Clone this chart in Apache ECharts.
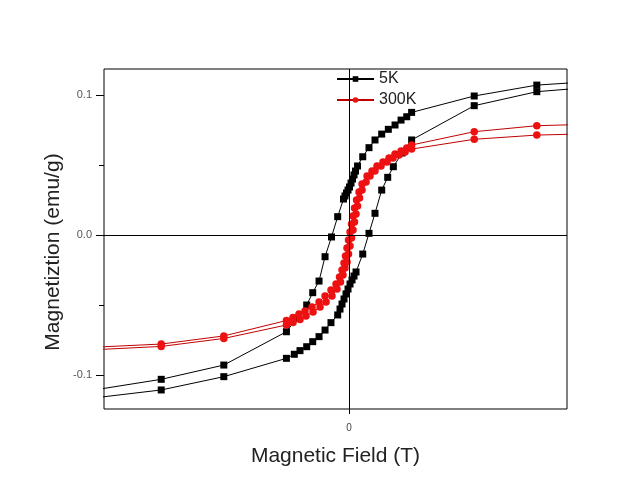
<!DOCTYPE html>
<html>
<head>
<meta charset="utf-8">
<script src="https://cdn.jsdelivr.net/npm/echarts@6/dist/echarts.min.js"></script>
<style>html,body{margin:0;padding:0;background:#fff}#c{width:634px;height:504px}</style>
</head>
<body>
<div id="c"></div>
<script>
// 5K loop: descending branch (+H -> -H)
const field5K_desc = [4, 3, 2, 1, 0.922, 0.831, 0.735, 0.628, 0.522, 0.415, 0.319, 0.219, 0.136, 0.104, 0.080, 0.056, 0.032, 0.008, -0.016, -0.040, -0.064, -0.088, -0.181, -0.280, -0.383, -0.479, -0.580, -0.676, -0.831, -1, -2, -3, -4];
const m5K_desc = [0.110, 0.1071, 0.0993, 0.0876, 0.0845, 0.0821, 0.0786, 0.0755, 0.0721, 0.0679, 0.0624, 0.0559, 0.0493, 0.0457, 0.0429, 0.0400, 0.0371, 0.0343, 0.0321, 0.0300, 0.0279, 0.0257, 0.0131, -0.0014, -0.0155, -0.0329, -0.0412, -0.0500, -0.0593, -0.0691, -0.0929, -0.1031, -0.1102];
// 5K loop: ascending branch (-H -> +H)
const field5K_asc = [-4, -3, -2, -1, -0.874, -0.783, -0.676, -0.580, -0.479, -0.383, -0.288, -0.181, -0.144, -0.112, -0.080, -0.048, -0.016, 0.016, 0.048, 0.080, 0.112, 0.219, 0.319, 0.415, 0.522, 0.618, 0.708, 0.847, 1, 2, 3, 4];
const m5K_asc = [-0.116, -0.1107, -0.1012, -0.0881, -0.0852, -0.0826, -0.0798, -0.0762, -0.0726, -0.0679, -0.0626, -0.0571, -0.0529, -0.0493, -0.0457, -0.0421, -0.0386, -0.0350, -0.0321, -0.0293, -0.0264, -0.0136, 0.0012, 0.0155, 0.0321, 0.0412, 0.0488, 0.0586, 0.0679, 0.0924, 0.1024, 0.106];
// 300K loop
const field300K_desc = [4, 3, 2, 1, 0.922, 0.831, 0.735, 0.639, 0.543, 0.447, 0.367, 0.288, 0.208, 0.160, 0.120, 0.088, 0.064, 0.040, 0.016, -0.008, -0.032, -0.056, -0.080, -0.112, -0.152, -0.208, -0.288, -0.383, -0.479, -0.591, -0.703, -0.799, -0.895, -1, -2, -3, -4];
const m300K_desc = [0.0793, 0.0781, 0.0738, 0.0643, 0.0621, 0.0600, 0.0579, 0.0550, 0.0521, 0.0493, 0.0457, 0.0421, 0.0364, 0.0307, 0.0250, 0.0193, 0.0136, 0.0079, 0.0021, -0.0036, -0.0093, -0.0150, -0.0200, -0.0250, -0.0300, -0.0350, -0.0393, -0.0436, -0.0479, -0.0514, -0.0543, -0.0564, -0.0589, -0.0611, -0.0721, -0.0779, -0.0800];
const field300K_asc = [-4, -3, -2, -1, -0.895, -0.783, -0.687, -0.575, -0.463, -0.367, -0.272, -0.192, -0.136, -0.096, -0.064, -0.032, -0.008, 0.016, 0.040, 0.064, 0.088, 0.112, 0.136, 0.168, 0.208, 0.272, 0.335, 0.415, 0.511, 0.607, 0.703, 0.799, 0.895, 1, 2, 3, 4];
const m300K_asc = [-0.0818, -0.0796, -0.0739, -0.0643, -0.0625, -0.0604, -0.0579, -0.0550, -0.0514, -0.0479, -0.0436, -0.0386, -0.0336, -0.0286, -0.0236, -0.0193, -0.0136, -0.0079, -0.0021, 0.0036, 0.0093, 0.0150, 0.0207, 0.0264, 0.0321, 0.0379, 0.0421, 0.0457, 0.0493, 0.0521, 0.0550, 0.0571, 0.0593, 0.0614, 0.0684, 0.0714, 0.0725];

const seriesNames = ['5K', '300K'];
const xTickValues = [0];
const yTickValues = [-0.1, 0, 0.1];
const yMinorTickValues = [-0.05, 0.05];
const xTitle = 'Magnetic Field (T)';
const yTitle = 'Magnetiztion (emu/g)';

function zip(xs, ys) { return xs.map((x, i) => [x, ys[i]]); }
const loop5K = zip(field5K_desc, m5K_desc).concat(zip(field5K_asc, m5K_asc));
const loop300K = zip(field300K_desc, m300K_desc).concat(zip(field300K_asc, m300K_asc));

const font = 'Liberation Sans, Arial, sans-serif';
const chart = echarts.init(document.getElementById('c'), null, {renderer: 'canvas'});
chart.setOption({
  animation: false,
  backgroundColor: '#fff',
  grid: {left: 104, top: 69, right: 67, bottom: 95, show: true, borderColor: '#000', borderWidth: 1, backgroundColor: 'transparent'},
  legend: {
    data: seriesNames, orient: 'vertical', left: 336, top: 71,
    itemWidth: 37, itemHeight: 7, itemGap: 5, padding: 0,
    textStyle: {fontFamily: font, fontSize: 16, color: '#222'}
  },
  graphic: [{
    type: 'text', x: 53, y: 252, rotation: Math.PI / 2, silent: true,
    style: {text: yTitle, font: '21px ' + font, fill: '#222', align: 'center', verticalAlign: 'middle'}
  }],
  xAxis: {
    type: 'value', min: -3.914, max: 3.482,
    axisLine: {show: false, onZero: false},
    splitLine: {show: false},
    axisTick: {show: true, customValues: xTickValues, length: 5, lineStyle: {color: '#000'}},
    axisLabel: {customValues: xTickValues, fontFamily: font, fontSize: 10, color: '#444', margin: 14},
    name: xTitle, nameLocation: 'middle', nameGap: 37,
    nameTextStyle: {fontFamily: font, fontSize: 21, color: '#222'}
  },
  yAxis: [{
    type: 'value', min: -0.1243, max: 0.1186, position: 'left',
    axisLine: {show: false, onZero: false},
    splitLine: {show: false},
    axisTick: {show: true, customValues: yTickValues, length: 8, lineStyle: {color: '#000'}},
    axisLabel: {customValues: yTickValues, fontFamily: font, fontSize: 11, color: '#555', margin: 12,
      formatter: v => v.toFixed(1)}
  }, {
    type: 'value', min: -0.1243, max: 0.1186, position: 'left',
    axisLine: {show: false, onZero: false}, splitLine: {show: false},
    axisTick: {show: true, customValues: yMinorTickValues, length: 5, lineStyle: {color: '#000'}},
    axisLabel: {show: false}
  }],
  series: [{
    name: '5K', type: 'line', data: loop5K,
    symbol: 'rect', symbolSize: 7,
    itemStyle: {color: '#000'},
    lineStyle: {color: '#000', width: 1},
    clip: true,
    markLine: {
      silent: true, symbol: 'none', label: {show: false},
      lineStyle: {color: '#000', type: 'solid', width: 1},
      emphasis: {disabled: true},
      data: [{yAxis: 0}, {xAxis: 0}]
    }
  }, {
    name: '300K', type: 'line', data: loop300K,
    symbol: 'circle', symbolSize: 7.5,
    itemStyle: {color: '#ee1111'},
    lineStyle: {color: '#c00000', width: 1},
    clip: true
  }]
});
</script>
</body>
</html>
